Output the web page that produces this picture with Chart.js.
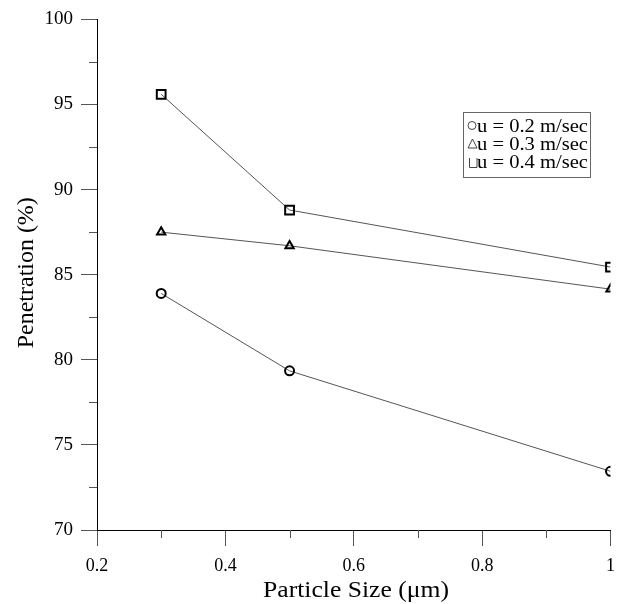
<!DOCTYPE html>
<html><head><meta charset="utf-8">
<script src="https://cdn.jsdelivr.net/npm/chart.js@4/dist/chart.umd.min.js"></script>
<style>html,body{margin:0;padding:0;background:#fff}#wrap{width:624px;height:604px}</style>
</head><body><div id="wrap"><canvas id="c" width="624" height="604"></canvas></div>
<script>
const particleSize = [0.3, 0.5, 1.0];
const pen02 = [83.9, 79.35, 73.45];
const pen03 = [87.5, 86.7, 84.15];
const pen04 = [95.6, 88.8, 85.45];
const seriesLabels = ['u = 0.2 m/sec', 'u = 0.3 m/sec', 'u = 0.4 m/sec'];
const xTicks = [0.2, 0.4, 0.6, 0.8, 1];
const yTicks = [70, 75, 80, 85, 90, 95, 100];
const xTitle = 'Particle Size (\u03BCm)';
const yTitle = 'Penetration (%)';

const serif = "'Liberation Serif', 'Times New Roman', serif";

function mk(label, ys, style, r) {
  return {
    label: label,
    data: particleSize.map((x, i) => ({x: x, y: ys[i]})),
    borderColor: '#555',
    borderWidth: 1,
    pointStyle: style,
    pointRadius: r,
    pointBorderColor: '#000',
    pointBorderWidth: 2,
    pointBackgroundColor: 'rgba(0,0,0,0)',
    tension: 0
  };
}

function fitText(ctx, text, x, y, targetW) {
  const w = ctx.measureText(text).width;
  const s = targetW / w;
  ctx.save();
  ctx.translate(x, y);
  ctx.scale(s, 1);
  ctx.fillText(text, 0, 0);
  ctx.restore();
}

const extras = {
  id: 'extras',
  afterDraw(chart) {
    const ctx = chart.ctx, xs = chart.scales.x, ys = chart.scales.y;
    ctx.save();
    ctx.strokeStyle = '#555';
    ctx.lineWidth = 1;
    for (let i = 0; i < yTicks.length - 1; i++) {
      const v = (yTicks[i] + yTicks[i + 1]) / 2;
      const p = Math.round(ys.getPixelForValue(v)) + 0.5;
      ctx.beginPath(); ctx.moveTo(xs.left - 8, p); ctx.lineTo(xs.left, p); ctx.stroke();
    }
    for (let i = 0; i < xTicks.length - 1; i++) {
      const v = (xTicks[i] + xTicks[i + 1]) / 2;
      const p = Math.round(xs.getPixelForValue(v)) + 0.5;
      ctx.beginPath(); ctx.moveTo(p, ys.bottom); ctx.lineTo(p, ys.bottom + 8); ctx.stroke();
    }
    // axis titles
    ctx.fillStyle = '#000';
    ctx.textBaseline = 'alphabetic';
    ctx.textAlign = 'left';
    ctx.font = "23px " + serif;
    const xw = 186;
    fitText(ctx, xTitle, 356 - xw / 2, 597, xw);
    ctx.save();
    ctx.translate(33, (ys.top + ys.bottom) / 2 - 2);
    ctx.rotate(-Math.PI / 2);
    ctx.font = "24px " + serif;
    const yw = 151;
    fitText(ctx, yTitle, -yw / 2, 0, yw);
    ctx.restore();
    // legend box
    const bx = 463, by = 112, bw = 127, bh = 65;
    ctx.strokeStyle = '#666';
    ctx.strokeRect(bx + 0.5, by + 0.5, bw, bh);
    ctx.font = "19px " + serif;
    const base = [132, 150, 168];
    for (let i = 0; i < seriesLabels.length; i++) {
      fitText(ctx, seriesLabels[i], 477, base[i], 111);
    }
    // legend symbols
    ctx.strokeStyle = '#444';
    ctx.lineWidth = 1;
    ctx.beginPath(); ctx.arc(472, 125.5, 4, 0, Math.PI * 2); ctx.stroke();
    ctx.beginPath(); ctx.moveTo(468, 148); ctx.lineTo(472.5, 139); ctx.lineTo(477, 148); ctx.closePath(); ctx.stroke();
    ctx.beginPath(); ctx.moveTo(469.5, 158); ctx.lineTo(469.5, 167.5); ctx.lineTo(477, 167.5); ctx.lineTo(477, 158); ctx.stroke();
    ctx.restore();
  }
};

new Chart(document.getElementById('c'), {
  type: 'line',
  data: {
    datasets: [
      mk(seriesLabels[0], pen02, 'circle', 4.5),
      mk(seriesLabels[1], pen03, 'triangle', 4.8),
      mk(seriesLabels[2], pen04, 'rect', 6.2)
    ]
  },
  options: {
    responsive: false,
    animation: false,
    layout: {padding: {top: 17, right: 12, left: 0, bottom: 0}},
    plugins: {legend: {display: false}, tooltip: {enabled: false}},
    scales: {
      x: {
        type: 'linear', min: 0.2, max: 1,
        afterBuildTicks: s => { s.ticks = xTicks.map(v => ({value: v})); },
        afterFit: s => { s.height = 74; },
        border: {color: '#000', width: 1},
        grid: {drawOnChartArea: false, tickLength: 16, color: '#555'},
        ticks: {font: {family: serif, size: 18}, color: '#000', padding: 9, maxRotation: 0,
          callback: v => String(Math.round(v * 10) / 10)},
        title: {display: false}
      },
      y: {
        type: 'linear', min: 70, max: 100,
        afterBuildTicks: s => { s.ticks = yTicks.map(v => ({value: v})); },
        afterFit: s => { s.width = 97; },
        border: {color: '#000', width: 1},
        grid: {drawOnChartArea: false, tickLength: 16, color: '#555'},
        ticks: {font: {family: serif, size: 19}, color: '#000', padding: 8},
        title: {display: false}
      }
    }
  },
  plugins: [extras]
});
</script>
</body></html>
